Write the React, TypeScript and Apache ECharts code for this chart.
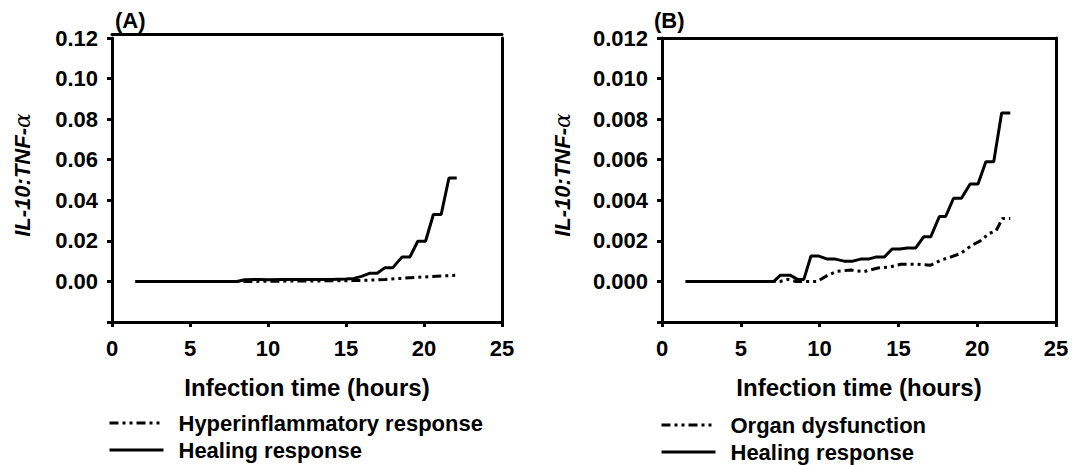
import React, { useEffect, useRef } from "react";
import * as echarts from "echarts";

// ---------- data ----------
const xTickLabels = [0, 5, 10, 15, 20, 25];

// Panel A
const hoursHealingA = [1.5, 8.0, 8.5, 9.5, 10.0, 11.0, 12.0, 13.0, 14.0, 15.0, 15.5, 16.0, 16.5, 17.0, 17.5, 18.0, 18.6, 19.1, 19.6, 20.1, 20.6, 21.1, 21.6, 22.1];
const ratioHealingA = [0, 0, 0.0008, 0.001, 0.0008, 0.0009, 0.0009, 0.001, 0.001, 0.0012, 0.0015, 0.0025, 0.004, 0.004, 0.0068, 0.0068, 0.0121, 0.0121, 0.0198, 0.0198, 0.033, 0.033, 0.051, 0.051];
const hoursHyperA = [1.5, 9.0, 10.0, 12.0, 14.0, 15.5, 16.5, 17.5, 18.5, 19.5, 20.5, 21.5, 22.0];
const ratioHyperA = [0, 0, 0.0001, 0.0002, 0.0003, 0.0004, 0.0006, 0.001, 0.0015, 0.002, 0.0024, 0.0028, 0.003];

// Panel B
const hoursHealingB = [1.5, 7.1, 7.5, 8.15, 8.6, 9.0, 9.45, 9.95, 10.5, 11.0, 11.55, 12.1, 12.6, 13.1, 13.55, 14.1, 14.6, 15.1, 15.55, 16.1, 16.6, 17.05, 17.6, 18.0, 18.5, 19.0, 19.55, 20.05, 20.55, 21.05, 21.55, 22.1];
const ratioHealingB = [0, 0, 0.0003, 0.0003, 0.0001, 0.0001, 0.00125, 0.00125, 0.0011, 0.0011, 0.001, 0.001, 0.0011, 0.0011, 0.0012, 0.0012, 0.0016, 0.0016, 0.00165, 0.00165, 0.0022, 0.0022, 0.0032, 0.0032, 0.0041, 0.0041, 0.0048, 0.0048, 0.0059, 0.0059, 0.0083, 0.0083];
const hoursOrganB = [1.5, 7.5, 8.0, 8.5, 9.85, 10.5, 11.1, 12.0, 12.8, 13.7, 14.5, 15.15, 16.2, 17.05, 17.7, 18.3, 18.95, 19.6, 20.2, 20.75, 21.2, 21.6, 22.1];
const ratioOrganB = [0, 0, 0.0001, 0, 0, 0.0003, 0.0005, 0.00056, 0.00048, 0.00066, 0.00072, 0.00085, 0.00085, 0.0008, 0.00105, 0.0012, 0.00138, 0.00175, 0.002, 0.00236, 0.0025, 0.0031, 0.0031];

const legendA = ["Hyperinflammatory response", "Healing response"];
const legendB = ["Organ dysfunction", "Healing response"];

// ---------- helpers ----------
const FONT = "'Liberation Sans', Arial, Helvetica, sans-serif";
const pairs = (xs: number[], ys: number[]) => xs.map((x, i) => [x, ys[i]]);
const DASH_DOT_DOT = [9, 4, 3, 4, 3, 4];

function buildOption() {
  const axisLineStyle = { color: "#000", width: 3 };
  const tickLabel = { color: "#000", fontFamily: FONT, fontWeight: "bold" as const, fontSize: 22 };

  const grids = [
    { left: 112, right: 586, top: 38, bottom: 143 },
    { left: 662, right: 32, top: 38, bottom: 143 },
  ];

  const xAxes: any[] = [];
  const yAxes: any[] = [];
  [0, 1].forEach((g) => {
    xAxes.push({
      type: "value",
      gridIndex: g,
      min: 0,
      max: 25,
      interval: 5,
      position: "bottom",
      axisLine: { show: true, onZero: false, lineStyle: axisLineStyle },
      axisTick: { show: true, inside: false, length: 5, lineStyle: { color: "#000", width: 3 } },
      axisLabel: {
        ...tickLabel,
        margin: 15,
        formatter: (v: number) => (xTickLabels.includes(Math.round(v)) ? String(Math.round(v)) : ""),
      },
      splitLine: { show: false },
      name: "Infection time (hours)",
      nameLocation: "middle",
      nameGap: 53,
      nameTextStyle: { color: "#000", fontFamily: FONT, fontWeight: "bold", fontSize: 24 },
    });
    xAxes.push({
      type: "value",
      gridIndex: g,
      min: 0,
      max: 25,
      interval: 5,
      position: "top",
      offset: g === 0 ? 4 : 0,
      axisLine: { show: true, onZero: false, lineStyle: axisLineStyle },
      axisTick: { show: false },
      axisLabel: { show: false },
      splitLine: { show: false },
    });
    const isA = g === 0;
    const step = isA ? 0.02 : 0.002;
    const digits = isA ? 2 : 3;
    yAxes.push({
      type: "value",
      gridIndex: g,
      min: -step,
      max: 6 * step,
      interval: step,
      position: "left",
      axisLine: { show: true, onZero: false, lineStyle: axisLineStyle },
      axisTick: { show: true, inside: false, length: 5, lineStyle: { color: "#000", width: 3 } },
      axisLabel: {
        ...tickLabel,
        margin: 14,
        formatter: (v: number) => (v < -step / 2 ? "" : v.toFixed(digits)),
      },
      splitLine: { show: false },
    });
    yAxes.push({
      type: "value",
      gridIndex: g,
      min: -step,
      max: 6 * step,
      interval: step,
      position: "right",
      axisLine: { show: true, onZero: false, lineStyle: axisLineStyle },
      axisTick: { show: false },
      axisLabel: { show: false },
      splitLine: { show: false },
    });
  });

  const solid = { color: "#000", width: 3, type: "solid" as const };
  const dashed = { color: "#000", width: 3, type: DASH_DOT_DOT, cap: "butt" as const };

  const series: any[] = [
    {
      name: "Hyperinflammatory response",
      type: "line",
      xAxisIndex: 0,
      yAxisIndex: 0,
      data: pairs(hoursHyperA, ratioHyperA),
      symbol: "none",
      lineStyle: dashed,
      itemStyle: { color: "#000" },
    },
    {
      name: "Healing response",
      type: "line",
      xAxisIndex: 0,
      yAxisIndex: 0,
      data: pairs(hoursHealingA, ratioHealingA),
      symbol: "none",
      lineStyle: solid,
      itemStyle: { color: "#000" },
    },
    {
      name: "Organ dysfunction",
      type: "line",
      xAxisIndex: 2,
      yAxisIndex: 2,
      data: pairs(hoursOrganB, ratioOrganB),
      symbol: "none",
      lineStyle: dashed,
      itemStyle: { color: "#000" },
    },
    {
      name: "Healing response",
      type: "line",
      xAxisIndex: 2,
      yAxisIndex: 2,
      data: pairs(hoursHealingB, ratioHealingB),
      symbol: "none",
      lineStyle: solid,
      itemStyle: { color: "#000" },
    },
  ];

  const legendCommon = {
    orient: "vertical" as const,
    itemWidth: 54,
    itemHeight: 14,
    itemGap: 5,
    height: 80,
    padding: 0,
    selectedMode: false,
    itemStyle: { opacity: 0 },
    lineStyle: { width: 3, color: "#000" },
    textStyle: {
      color: "#000",
      fontFamily: FONT,
      fontWeight: "bold" as const,
      fontSize: 22,
      lineHeight: 22,
      padding: [0, 0, 0, 10],
    },
  };

  const yTitle = (x: number, y: number) => ({
    type: "text",
    x,
    y,
    rotation: Math.PI / 2,
    style: {
      text: "IL-10:TNF-{a|α}",
      align: "center",
      verticalAlign: "middle",
      fill: "#000",
      font: `italic bold 22px ${FONT}`,
      rich: {
        a: { fontFamily: "'DejaVu Serif', serif", fontStyle: "italic", fontWeight: "normal", fontSize: 22, fill: "#000" },
      },
    },
  });

  const panelLabel = (text: string, x: number) => ({
    type: "text",
    x,
    y: 20,
    style: { text, align: "left", verticalAlign: "middle", fill: "#000", font: `bold 22px ${FONT}` },
  });

  return {
    animation: false,
    backgroundColor: "#fff",
    grid: grids,
    xAxis: xAxes,
    yAxis: yAxes,
    series,
    legend: [
      { ...legendCommon, data: legendA, left: 108, top: 412 },
      { ...legendCommon, data: legendB, left: 660, top: 414 },
    ],
    graphic: [yTitle(22, 175), yTitle(562, 175), panelLabel("(A)", 115), panelLabel("(B)", 654)],
  };
}

export default function App() {
  const ref = useRef<HTMLDivElement>(null);
  useEffect(() => {
    if (!ref.current) return;
    const chart = echarts.init(ref.current, null, { renderer: "svg" });
    chart.setOption(buildOption() as any);
    return () => chart.dispose();
  }, []);
  return (
    <div
      ref={ref}
      style={{ position: "fixed", left: 0, top: 0, width: 1088, height: 465, background: "#fff" }}
    />
  );
}
